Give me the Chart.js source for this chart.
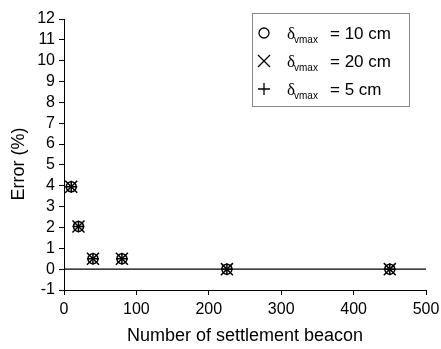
<!DOCTYPE html>
<html>
<head>
<meta charset="utf-8">
<script src="https://cdn.jsdelivr.net/npm/chart.js@4/dist/chart.umd.min.js"></script>
<style>
  body { margin: 0; background: #fff; }
  #wrap { width: 441px; height: 349px; }
</style>
</head>
<body>
<div id="wrap"><canvas id="errChart" width="441" height="349"></canvas></div>
<script>
// values
const beacons = [10, 20, 40, 80, 225, 450];
const error10cm = [3.95, 2.05, 0.5, 0.5, 0, 0];
const error20cm = [3.95, 2.05, 0.5, 0.5, 0, 0];
const error5cm = [3.95, 2.05, 0.5, 0.5, 0, 0];
const zeroLine = [0, 500];
const legendLabels = ['= 10 cm', '= 20 cm', '= 5 cm'];
const legendStyles = ['circle', 'crossRot', 'cross'];

const FONT = "'Liberation Sans', Arial, sans-serif";

const toPoints = (xs, ys) => xs.map((x, i) => ({ x: x, y: ys[i] }));

function drawSymbol(ctx, style, x, y) {
    ctx.save();
    ctx.strokeStyle = '#000';
    ctx.lineWidth = 1.3;
    ctx.beginPath();
    if (style === 'circle') {
        ctx.arc(x, y, 5, 0, Math.PI * 2);
    } else if (style === 'crossRot') {
        ctx.moveTo(x - 6, y - 6); ctx.lineTo(x + 6, y + 6);
        ctx.moveTo(x + 6, y - 6); ctx.lineTo(x - 6, y + 6);
    } else {
        ctx.moveTo(x - 6, y); ctx.lineTo(x + 6, y);
        ctx.moveTo(x, y - 6); ctx.lineTo(x, y + 6);
    }
    ctx.stroke();
    ctx.restore();
}

// legend box with subscripted delta + y title, drawn by hand
const deltaLegend = {
    id: 'deltaLegend',
    afterDraw(chart) {
        const ctx = chart.ctx;
        ctx.save();
        ctx.fillStyle = '#fff';
        ctx.fillRect(252, 13, 158, 94);
        ctx.strokeStyle = '#8a8a8a';
        ctx.lineWidth = 1;
        ctx.strokeRect(252.5, 13.5, 157, 93);
        const rows = [33, 61, 89];
        legendLabels.forEach((txt, i) => {
            const y = rows[i];
            drawSymbol(ctx, legendStyles[i], 264, y);
            ctx.fillStyle = '#000';
            ctx.textBaseline = 'alphabetic';
            ctx.font = "17px 'Liberation Serif', 'DejaVu Serif', serif";
            ctx.fillText('\u03b4', 287, y + 6);
            ctx.font = '10px ' + FONT;
            ctx.fillText('vmax', 294, y + 10);
            ctx.font = '17px ' + FONT;
            ctx.fillText(txt, 330, y + 6);
        });

        ctx.translate(19, 164);
        ctx.rotate(-Math.PI / 2);
        ctx.textAlign = 'center';
        ctx.textBaseline = 'middle';
        ctx.font = '18px ' + FONT;
        ctx.fillText('Error (%)', 0, 0);
        ctx.restore();
    }
};

new Chart(document.getElementById('errChart').getContext('2d'), {
    type: 'scatter',
    data: {
        datasets: [
            {
                type: 'line',
                label: 'zero',
                data: toPoints(zeroLine, [0, 0]),
                borderColor: '#000',
                borderWidth: 1.2,
                pointRadius: 0,
                order: 5,
            },
            {
                label: 'δvmax = 10 cm',
                data: toPoints(beacons, error10cm),
                pointStyle: 'circle',
                pointRadius: 5,
                borderColor: '#000',
                backgroundColor: 'rgba(0,0,0,0)',
                borderWidth: 1.5,
                order: 1,
            },
            {
                label: 'δvmax = 20 cm',
                data: toPoints(beacons, error20cm),
                pointStyle: 'crossRot',
                pointRadius: 8.5,
                borderColor: '#000',
                borderWidth: 1.5,
                order: 2,
            },
            {
                label: 'δvmax = 5 cm',
                data: toPoints(beacons, error5cm),
                pointStyle: 'cross',
                pointRadius: 6,
                borderColor: '#000',
                borderWidth: 1.5,
                order: 3,
            },
        ],
    },
    options: {
        responsive: false,
        animation: false,
        events: [],
        layout: { padding: { top: 19, right: 15, left: 0, bottom: 0 } },
        plugins: {
            legend: { display: false },
            tooltip: { enabled: false },
        },
        scales: {
            x: {
                type: 'linear',
                min: 0,
                max: 500,
                afterFit: (scale) => {
                    scale.height = 59;
                    scale.paddingRight = 0;
                    scale.paddingLeft = 0;
                },
                ticks: {
                    stepSize: 100,
                    autoSkip: false,
                    color: '#000',
                    padding: 5,
                    font: { family: FONT, size: 16 },
                },
                grid: {
                    drawOnChartArea: false,
                    drawTicks: true,
                    tickLength: 5,
                    color: '#000',
                },
                border: { display: true, color: '#000', width: 1 },
                title: {
                    display: true,
                    text: 'Number of settlement beacon',
                    color: '#000',
                    font: { family: FONT, size: 18 },
                    padding: { top: 0, bottom: 2 },
                },
            },
            y: {
                min: -1,
                max: 12,
                afterFit: (scale) => { scale.width = 64; },
                ticks: {
                    stepSize: 1,
                    autoSkip: false,
                    color: '#000',
                    padding: 4,
                    font: { family: FONT, size: 16 },
                },
                grid: {
                    drawOnChartArea: false,
                    drawTicks: true,
                    tickLength: 5,
                    color: '#000',
                },
                border: { display: true, color: '#000', width: 1 },
            },
        },
    },
    plugins: [deltaLegend],
});
</script>
</body>
</html>
